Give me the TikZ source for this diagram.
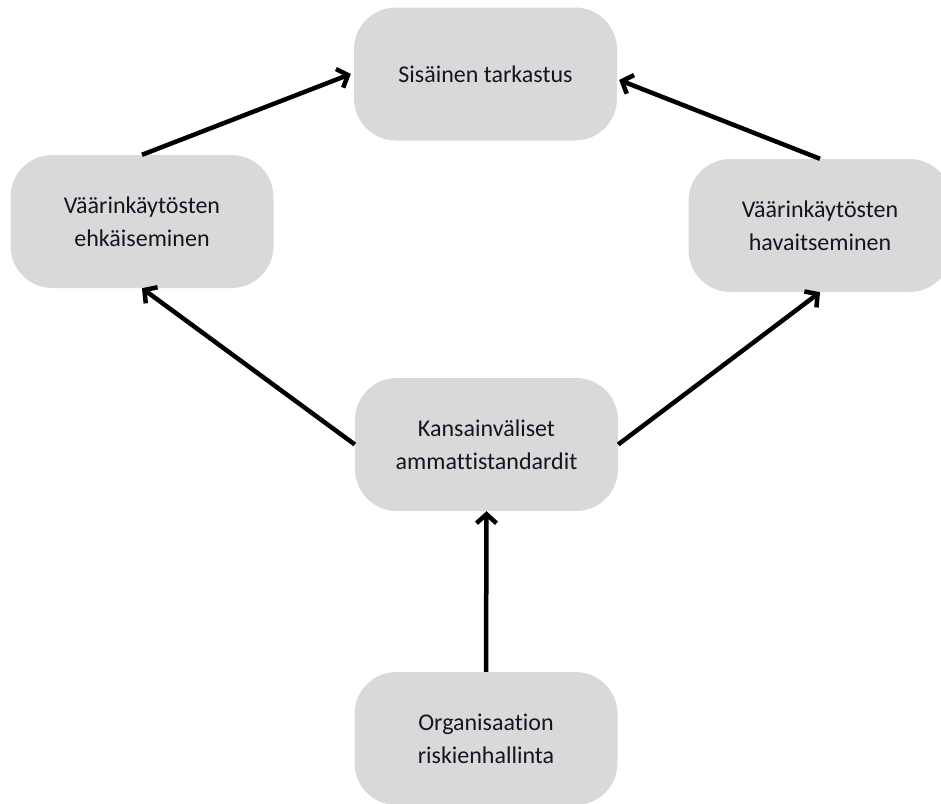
\documentclass[tikz,border=0pt]{standalone}
\usepackage{fontspec}
\setmainfont[Ligatures=NoCommon]{Carlito}
\usetikzlibrary{arrows.meta}
\definecolor{boxgray}{RGB}{217,217,217}
\definecolor{txt}{RGB}{20,20,35}
\tikzset{
  procbox/.style={fill=boxgray, draw=none, rounded corners=42pt, minimum width=263pt, minimum height=133pt, align=center, text=txt, font=\fontsize{24}{33}\selectfont, inner sep=0pt},
  conn/.style={line width=4.5pt, -{Straight Barb[length=9pt,width=20pt,line width=4.5pt]}, black}
}
\begin{document}
\begin{tikzpicture}[x=1pt,y=-1pt]
\useasboundingbox (0,0) rectangle (941,803);
\node[procbox] (top) at (485.5,74) {Sisäinen tarkastus};
\node[procbox] (left) at (142,221.5) {Väärinkäytösten\\ehkäiseminen};
\node[procbox] (right) at (820,225.5) {Väärinkäytösten\\havaitseminen};
\node[procbox] (mid) at (486.5,444.5) {Kansainväliset\\ammattistandardit};
\node[procbox] (bot) at (486,738.5) {Organisaation\\riskienhallinta};
\draw[conn] (left.north) -- ([xshift=-3pt]top.west);
\draw[conn] (right.north) -- ([xshift=2pt,yshift=-6pt]top.east);
\draw[conn] (mid.west) -- (left.south);
\draw[conn] (mid.east) -- (right.south);
\draw[conn] (bot.north) -- (mid.south);
\end{tikzpicture}
\end{document}
